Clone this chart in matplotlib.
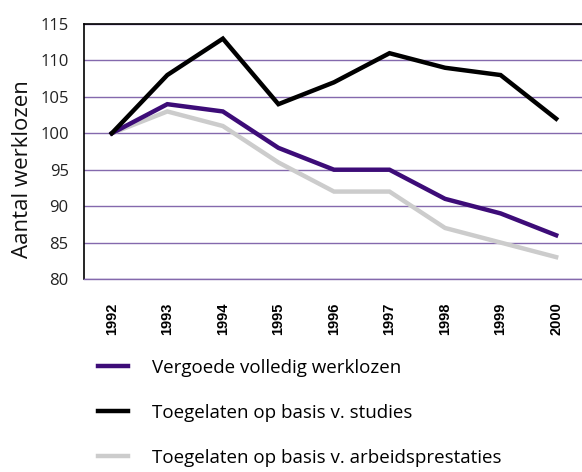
import numpy as np
from matplotlib import pyplot as plt

years = ['1992', '1993', '1994', '1995', '1996', '1997', '1998', '1999', '2000']
vergoede = [100, 104, 103, 98, 95, 95, 91, 89, 86]
studies = [100, 108, 113, 104, 107, 111, 109, 108, 102]
arbeid = [100, 103, 101, 96, 92, 92, 87, 85, 83]
labels = ['Vergoede volledig werklozen',
          'Toegelaten op basis v. studies',
          'Toegelaten op basis v. arbeidsprestaties']

plt.rcParams['font.family'] = ['Open Sans', 'DejaVu Sans']

fig = plt.figure(figsize=(5.82, 4.72), dpi=100)
ax = fig.add_axes([0.1443, 0.409, 0.859, 0.540])

x = np.arange(len(years))
# grey first so the purple line sits on top of it
l3, = ax.plot(x, arbeid, color='#cccccc', lw=3.2, solid_joinstyle='miter', zorder=3)
l1, = ax.plot(x, vergoede, color='#3d0c78', lw=3.2, solid_joinstyle='miter', zorder=4)
l2, = ax.plot(x, studies, color='black', lw=3.2, solid_joinstyle='miter', zorder=5)

ax.set_xlim(-0.5, 8.5)
ax.set_ylim(80, 115)
ax.set_yticks(np.arange(80, 116, 5))
ax.set_xticks(x)
ax.set_xticklabels(years)
ax.tick_params(axis='both', length=0)
ax.tick_params(axis='y', labelsize=12, pad=11, colors='#222222')
ax.tick_params(axis='x', pad=17)
plt.setp(ax.get_xticklabels(), rotation=90, fontweight='bold', fontsize=10.5,
         family='Liberation Sans', color='black')

ax.grid(axis='y', color='#8469ad', lw=1)
ax.set_axisbelow(True)
ax.spines['right'].set_visible(False)
ax.spines['bottom'].set_color('#8469ad')
ax.spines['bottom'].set_linewidth(1)
ax.spines['top'].set_color('black')
ax.spines['left'].set_color('black')
ax.spines['top'].set_linewidth(1.2)
ax.spines['left'].set_linewidth(1.2)

ax.set_ylabel('Aantal werklozen', fontsize=16, color='#111111')
ax.yaxis.set_label_coords(-0.102, 0.433)

fig.legend([l1, l2, l3], labels, loc='upper left', bbox_to_anchor=(0.1555, 0.256),
           frameon=False, fontsize=13.5, handlelength=1.6, handletextpad=1.28,
           labelspacing=1.45, borderaxespad=0)

fig.savefig('out.png', dpi=100)
